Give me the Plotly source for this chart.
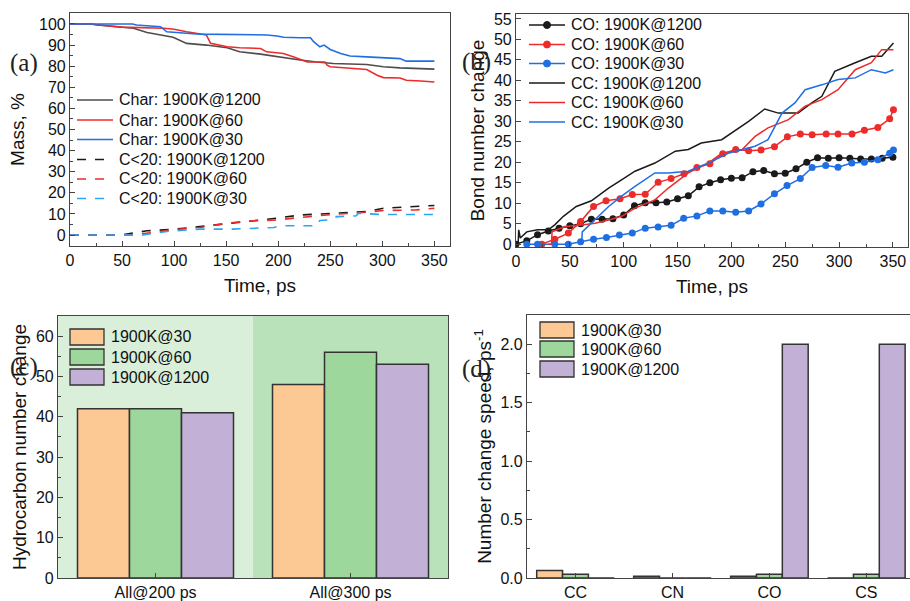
import plotly.graph_objects as go

# ---------------- Panel (a) data: Mass, % vs time ----------------
char1200_x = [0, 20, 26, 50, 61, 74, 93, 99, 112, 131, 151, 163, 183, 199, 221, 237, 253, 285, 301, 317, 350]
char1200_y = [100, 100, 99.5, 98.7, 98, 96, 94.3, 93.7, 90.8, 90, 88.7, 86.8, 85.7, 84.4, 82.9, 82, 81.3, 80.8, 79.7, 79.2, 78.6]
char60_x = [0, 20, 29, 50, 90, 100, 112, 122, 131, 135, 141, 151, 163, 183, 189, 205, 215, 221, 228, 245, 247, 250, 269, 285, 295, 301, 317, 323, 337, 350]
char60_y = [100, 100, 99.5, 98.5, 98, 97.5, 96.3, 95.6, 94.8, 90.8, 90.3, 89.2, 88.7, 88.4, 86.8, 86, 84.4, 83.2, 82, 82, 80.5, 79.7, 78.9, 78.4, 75.7, 74.6, 74.4, 73.3, 73, 72.5]
char30_x = [0, 60, 64, 74, 87, 93, 99, 112, 125, 157, 189, 199, 205, 221, 231, 234, 240, 244, 250, 260, 269, 285, 301, 317, 323, 350]
char30_y = [100, 100, 99.5, 99.2, 98.7, 96.3, 96, 95.6, 95.2, 95.1, 94.8, 94.3, 93.7, 93.5, 93.5, 91.6, 89.2, 90, 87.9, 86, 84.8, 84.4, 84.1, 83.6, 82.4, 82.4]
c20_1200_x = [0, 45, 50, 74, 99, 125, 157, 183, 199, 221, 253, 285, 301, 333, 350]
c20_1200_y = [0, 0, 0.1, 2, 2.7, 4, 5.6, 7.1, 8, 9.5, 10.3, 11.1, 12.7, 13.5, 14]
c20_60_x = [0, 60, 77, 99, 125, 151, 173, 199, 215, 231, 253, 285, 301, 333, 350]
c20_60_y = [0, 0, 1, 2.5, 3.6, 5.6, 6.7, 7.1, 8, 8.7, 9.8, 10.8, 11.6, 11.9, 12.7]
c20_30_x = [0, 70, 93, 112, 125, 157, 196, 202, 237, 240, 253, 256, 275, 277, 301, 350]
c20_30_y = [0, 0, 1.7, 2.5, 2.8, 2.8, 3.6, 4.4, 4.4, 6.9, 7.3, 8.7, 9.1, 10.3, 9.7, 9.7]

# ---------------- Panel (b) data: bond number change ----------------
co1200_x = [0, 10, 20, 30, 40, 50, 60, 70, 80, 90, 100, 110, 120, 130, 140, 150, 160, 170, 180, 190, 200, 210, 220, 230, 240, 250, 260, 270, 280, 290, 300, 310, 320, 330, 340, 350]
co1200_y = [0, 0.8, 2.3, 3.2, 3.9, 4.5, 5, 6.1, 6.1, 6.2, 7.1, 9.4, 10.1, 10.1, 10.3, 11.1, 11.8, 14, 15, 15.7, 16.1, 16.2, 17.7, 18, 17.2, 17.3, 18.4, 20, 21.1, 21, 21.1, 21, 20.8, 20.8, 21, 21.2]
co60_x = [24, 36, 48.6, 60, 72, 83.6, 96.6, 108, 120, 132, 144, 156, 168, 180, 192, 204, 216, 227.5, 240, 252, 264, 275, 288, 299, 312, 323.5, 336, 347, 350.5]
co60_y = [0, 1.2, 2.7, 5.5, 9.2, 10.6, 11.1, 12.1, 12.2, 15.1, 16, 17.2, 18.7, 19.6, 22.1, 23.1, 22.8, 23, 23.8, 26.2, 26.9, 26.7, 26.9, 26.9, 26.9, 27.8, 28.5, 30.6, 32.8]
co30_x = [10, 20, 36, 48.6, 60, 72, 84, 96, 108, 120, 132, 144, 155.7, 168, 180, 192, 204, 216, 227.5, 240, 251.7, 264, 275, 287.6, 299, 311.8, 323.5, 336, 347, 350.5]
co30_y = [0, 0, 0, 0, 0.6, 1.2, 1.6, 2.2, 2.7, 3.9, 4.2, 4.6, 6.3, 6.9, 8.1, 8.1, 7.8, 8.1, 9.8, 12.3, 14.3, 16, 18.7, 19.2, 18.8, 19.8, 20, 20.6, 22.2, 23]
cc1200_x = [0, 2, 2.5, 4, 10, 20, 30, 36, 44, 56, 70, 86, 98, 110.5, 129, 148, 160, 172, 191, 200, 216, 231, 243.6, 262, 274.6, 284, 296, 315, 330, 339.6, 350.5]
cc1200_y = [0, 0, 3.5, 1.5, 3, 3.5, 3.5, 4.7, 6.8, 9.2, 10.6, 13.7, 15.7, 17.8, 19.8, 22.7, 23.1, 24.7, 25.5, 27.1, 30, 33, 32, 32, 34.5, 36.1, 42.2, 44.3, 45.9, 45.9, 49.1]
cc60_x = [30, 33, 33.5, 45.5, 61, 73.4, 86, 98, 110.5, 129, 141.5, 160, 178.6, 191, 209.6, 222, 234, 253, 268.5, 284, 299, 315, 330, 339.6, 350.5]
cc60_y = [0, 0, 3, 4.3, 4.7, 5.1, 5.9, 6.8, 8.8, 10.8, 13.7, 17.4, 19.8, 22.2, 23, 26.3, 28.4, 30.4, 33.7, 35.3, 37.7, 42.6, 44.3, 47.5, 47.5]
cc30_x = [60, 61, 61.5, 73.4, 86, 98, 110.5, 129, 141.5, 160, 178.6, 197, 209.6, 222, 234, 247, 259, 268.5, 284, 299, 315, 330, 343, 350.5]
cc30_y = [0, 0, 3, 5.9, 9.2, 11.7, 14.1, 17.4, 17.4, 17.8, 19.8, 22.2, 23, 23.9, 25.5, 32, 34.5, 37.7, 38.9, 40.2, 40.6, 42.6, 41.8, 42.6]

# ---------------- Panel (c) data ----------------
c_categories = ["All@200 ps", "All@300 ps"]
c_k30 = [42, 48]
c_k60 = [42, 56]
c_k1200 = [41, 53]

# ---------------- Panel (d) data ----------------
d_categories = ["CC", "CN", "CO", "CS"]
d_k30 = [0.065, 0.015, 0.015, 0]
d_k60 = [0.032, 0, 0.032, 0.032]
d_k1200 = [0, 0, 2.0, 2.0]

bar_names = ["1900K@30", "1900K@60", "1900K@1200"]

# styling
FONT = "Liberation Sans, Arial, sans-serif"
SERIF = "Liberation Serif, Times New Roman, serif"
BLACK = "#1a1a1a"
GRAY = "#4d4d4d"
RED = "#ee2b2b"
BLUE = "#1f6fe3"
LBLUE = "#2aa6f2"
ORANGE = "#fcc894"
GREEN = "#9dd79b"
PURPLE = "#c2b0d7"
BG1 = "#d9efd9"
BG2 = "#b9e2ba"
W, H = 910, 601


def px(xp):
    return xp / W


def py(yp):
    return 1 - yp / H


fig = go.Figure()
shapes = []
annotations = []
TXT = dict(family=FONT, size=16, color="#111")


def line_legend(x0, ys, entries):
    for yy, (name, col, dash, marker) in zip(ys, entries):
        shapes.append(dict(type="line", xref="paper", yref="paper",
                           x0=px(x0), x1=px(x0 + 36), y0=py(yy), y1=py(yy),
                           line=dict(color=col, width=1.6, dash=dash)))
        if marker:
            cx = x0 + 18
            shapes.append(dict(type="circle", xref="paper", yref="paper",
                               x0=px(cx - 3.5), x1=px(cx + 3.5), y0=py(yy + 3.5), y1=py(yy - 3.5),
                               fillcolor=col, line=dict(color=col, width=1)))
        annotations.append(dict(xref="paper", yref="paper", x=px(x0 + 40), y=py(yy),
                                text=name, showarrow=False, xanchor="left", yanchor="middle",
                                font=TXT))


# Panel (a)
a_series = [
    ("Char: 1900K@1200", char1200_x, char1200_y, GRAY, "solid"),
    ("Char: 1900K@60", char60_x, char60_y, RED, "solid"),
    ("Char: 1900K@30", char30_x, char30_y, BLUE, "solid"),
    ("C<20: 1900K@1200", c20_1200_x, c20_1200_y, BLACK, "dash"),
    ("C<20: 1900K@60", c20_60_x, c20_60_y, RED, "dash"),
    ("C<20: 1900K@30", c20_30_x, c20_30_y, LBLUE, "dash"),
]
for name, xs, ys, col, dash in a_series:
    fig.add_trace(go.Scatter(x=xs, y=ys, name=name, mode="lines", showlegend=False,
                             line=dict(color=col, width=1.6, dash=dash),
                             xaxis="x", yaxis="y"))
line_legend(77, [100, 120, 139.5, 159.5, 179, 198.5],
            [(n.replace("<", "&lt;"), c, d, False) for n, _, _, c, d in a_series])

# Panel (b)
b_series = [
    ("CO: 1900K@1200", co1200_x, co1200_y, BLACK, "lines+markers"),
    ("CO: 1900K@60", co60_x, co60_y, RED, "lines+markers"),
    ("CO: 1900K@30", co30_x, co30_y, BLUE, "lines+markers"),
    ("CC: 1900K@1200", cc1200_x, cc1200_y, BLACK, "lines"),
    ("CC: 1900K@60", cc60_x, cc60_y, RED, "lines"),
    ("CC: 1900K@30", cc30_x, cc30_y, BLUE, "lines"),
]
for name, xs, ys, col, mode in b_series:
    fig.add_trace(go.Scatter(x=xs, y=ys, name=name, mode=mode, showlegend=False,
                             line=dict(color=col, width=1.5),
                             marker=dict(color=col, size=7),
                             xaxis="x2", yaxis="y2"))
line_legend(529, [25, 44.5, 63.5, 83, 102.5, 122],
            [(n, c, "solid", m == "lines+markers") for n, _, _, c, m in b_series])

# Panel (c) & (d) bars
bar_cols = [ORANGE, GREEN, PURPLE]
for name, vals, col in zip(bar_names, [c_k30, c_k60, c_k1200], bar_cols):
    fig.add_trace(go.Bar(x=c_categories, y=vals, name=name, showlegend=False,
                         marker=dict(color=col, line=dict(color="#333333", width=1.5)),
                         xaxis="x3", yaxis="y3"))
for name, vals, col in zip(bar_names, [d_k30, d_k60, d_k1200], bar_cols):
    fig.add_trace(go.Bar(x=d_categories, y=vals, name=name, showlegend=False,
                         marker=dict(color=col, line=dict(color="#333333", width=1.5)),
                         xaxis="x4", yaxis="y4"))

axis_common = dict(showline=True, mirror=True, linecolor="#444444", linewidth=1.2,
                   ticks="inside", ticklen=5, tickcolor="#444444", showgrid=False,
                   zeroline=False, tickfont=dict(family=FONT, size=16, color="#111"),
                   automargin=False)
title_font = dict(family=FONT, size=19, color="#111")

# background halves of panel (c)
shapes.append(dict(type="rect", xref="x3", yref="y3 domain", x0=-0.5, x1=0.5, y0=0, y1=1,
                   fillcolor=BG1, line=dict(width=0), layer="below"))
shapes.append(dict(type="rect", xref="x3", yref="y3 domain", x0=0.5, x1=1.5, y0=0, y1=1,
                   fillcolor=BG2, line=dict(width=0), layer="below"))


# custom bar legends for (c) and (d)
def bar_legend(x0, tops):
    for name, col, top in zip(bar_names, bar_cols, tops):
        shapes.append(dict(type="rect", xref="paper", yref="paper",
                           x0=px(x0), x1=px(x0 + 34), y0=py(top + 16), y1=py(top),
                           fillcolor=col, line=dict(color="#333333", width=1.3)))
        annotations.append(dict(xref="paper", yref="paper", x=px(x0 + 39), y=py(top + 8),
                                text=name, showarrow=False, xanchor="left", yanchor="middle",
                                font=TXT))


bar_legend(70, [329, 349, 369])
bar_legend(540, [322, 341, 361])

# panel labels
for lab, xx, yy in [("(a)", 8, 63), ("(b)", 460, 62), ("(c)", 8, 367), ("(d)", 460, 369)]:
    annotations.append(dict(xref="paper", yref="paper", x=px(xx), y=py(yy), text=lab,
                            showarrow=False, xanchor="left", yanchor="middle",
                            font=dict(family=SERIF, size=25, color="#222")))

fig.update_layout(
    width=W, height=H,
    margin=dict(l=0, r=0, t=0, b=0),
    paper_bgcolor="white", plot_bgcolor="rgba(0,0,0,0)",
    barmode="group", bargap=0.2, bargroupgap=0,
    showlegend=False,
    xaxis=dict(domain=[px(70), px(450)], anchor="y", range=[0, 365],
               dtick=50, minor=dict(ticks="inside", ticklen=3, dtick=25, tickcolor="#444444"),
               title=dict(text="Time, ps", font=title_font, standoff=10), **axis_common),
    yaxis=dict(domain=[py(246), py(13)], anchor="x", range=[-5.2, 105.2],
               dtick=10, minor=dict(ticks="inside", ticklen=3, dtick=5, tickcolor="#444444"),
               title=dict(text="Mass, %", font=title_font, standoff=9), **axis_common),
    xaxis2=dict(domain=[px(516), px(908)], anchor="y2", range=[0, 364],
                dtick=50, minor=dict(ticks="inside", ticklen=3, dtick=25, tickcolor="#444444"),
                title=dict(text="Time, ps", font=title_font, standoff=10), **axis_common),
    yaxis2=dict(domain=[py(247), py(14)], anchor="x2", range=[-0.7, 56.2],
                dtick=5, title=dict(text="Bond number change", font=title_font, standoff=4),
                **axis_common),
    xaxis3=dict(domain=[px(58), px(448)], anchor="y3", range=[-0.5, 1.5], type="category",
                **axis_common),
    yaxis3=dict(domain=[py(578), py(316)], anchor="x3", range=[0, 65],
                dtick=10, minor=dict(ticks="inside", ticklen=3, dtick=5, tickcolor="#444444"),
                title=dict(text="Hydrocarbon number change", font=title_font, standoff=4),
                **axis_common),
    xaxis4=dict(domain=[px(527), 1.0], anchor="y4", range=[-0.5, 3.45], type="category",
                **axis_common),
    yaxis4=dict(domain=[py(578), py(315)], anchor="x4", range=[0, 2.25],
                dtick=0.5, tickformat=".1f",
                minor=dict(ticks="inside", ticklen=3, dtick=0.25, tickcolor="#444444"),
                title=dict(text="Number change speed, ps<sup>-1</sup>", font=title_font, standoff=3),
                **axis_common),
    shapes=shapes,
    annotations=annotations,
)

# remove the browser's default 8px page margin so the figure fills the window exactly
fig.write_html("out.html", config={"displayModeBar": False},
               post_script="document.body.style.margin='0';")
